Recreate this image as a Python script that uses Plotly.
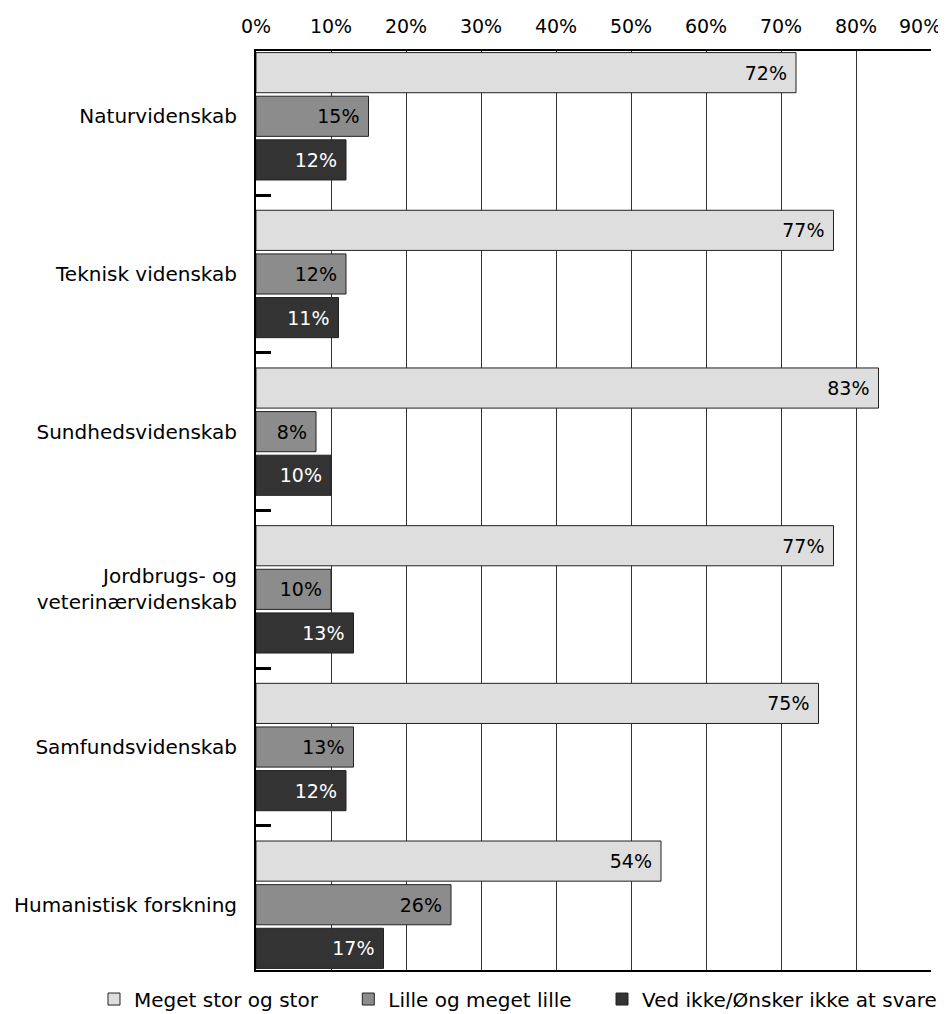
import plotly.graph_objects as go

categories = [
    "Naturvidenskab",
    "Teknisk videnskab",
    "Sundhedsvidenskab",
    "Jordbrugs- og<br>veterinærvidenskab",
    "Samfundsvidenskab",
    "Humanistisk forskning",
]
series_names = ["Meget stor og stor", "Lille og meget lille", "Ved ikke/Ønsker ikke at svare"]
meget_stor = [72, 77, 83, 77, 75, 54]
lille = [15, 12, 8, 10, 13, 26]
ved_ikke = [12, 11, 10, 13, 12, 17]
x_tickvals = [0, 10, 20, 30, 40, 50, 60, 70, 80, 90]
x_ticktext = ["0%", "10%", "20%", "30%", "40%", "50%", "60%", "70%", "80%", "90%"]

colors = ["#dedede", "#8c8c8c", "#333333"]
text_colors = ["#000000", "#000000", "#ffffff"]
FONT = "DejaVu Sans"
PAD = "\u00a0" * 4

fig = go.Figure()
for i, (name, vals, col, tcol) in enumerate(zip(series_names, [meget_stor, lille, ved_ikke], colors, text_colors)):
    fig.add_trace(go.Bar(
        name=name + (PAD if i < 2 else ""),
        y=categories,
        x=vals,
        orientation="h",
        marker=dict(color=col, line=dict(color="#222222", width=1)),
        text=[f"{v}%" for v in vals],
        texttemplate="%{text}\u00a0",
        textposition="inside",
        insidetextanchor="end",
        textangle=0,
        textfont=dict(family=FONT, size=19, color=tcol),
        constraintext="none",
    ))

# the last tick label sits at the right edge of the window: draw it right-aligned at its tick
last_tick_label = x_ticktext[-1]
tick_labels_shown = x_ticktext[:-1] + [""]

fig.add_annotation(
    x=x_tickvals[-1], xref="x", y=1, yref="paper",
    text=last_tick_label, showarrow=False,
    xanchor="right", yanchor="middle", xshift=12, yshift=25,
    font=dict(family=FONT, size=19, color="#000000"),
)

# page body has an 8px margin, so the figure is sized to fit the 946x1014 window
fig.update_layout(
    width=938,
    height=1006,
    margin=dict(l=248, r=15, t=43, b=44, autoexpand=False),
    paper_bgcolor="white",
    plot_bgcolor="white",
    barmode="group",
    bargap=0.17,
    bargroupgap=0.08,
    font=dict(family=FONT, size=19, color="#000000"),
    showlegend=True,
    legend=dict(
        orientation="h",
        x=-0.24,
        xanchor="left",
        y=-0.0316,
        yanchor="middle",
        font=dict(family=FONT, size=20, color="#000000"),
        traceorder="normal",
        bgcolor="rgba(0,0,0,0)",
    ),
    xaxis=dict(
        side="top",
        range=[0, 90],
        tickvals=x_tickvals,
        ticktext=tick_labels_shown,
        tickfont=dict(family=FONT, size=19, color="#000000"),
        showgrid=True,
        gridcolor="#333333",
        gridwidth=1,
        showline=True,
        linecolor="#000000",
        linewidth=2,
        mirror=True,
        ticks="outside",
        ticklen=8,
        tickcolor="rgba(0,0,0,0)",
        zeroline=False,
        automargin=False,
        fixedrange=True,
    ),
    yaxis=dict(
        type="category",
        range=[5.414, -0.414],
        tickson="boundaries",
        ticks="inside",
        ticklen=15,
        tickwidth=3,
        tickcolor="#000000",
        ticklabelstandoff=13,
        tickfont=dict(family=FONT, size=20, color="#000000"),
        showgrid=False,
        showline=True,
        linecolor="#000000",
        linewidth=2,
        zeroline=False,
        automargin=False,
        fixedrange=True,
    ),
)

fig.write_html("out.html")
